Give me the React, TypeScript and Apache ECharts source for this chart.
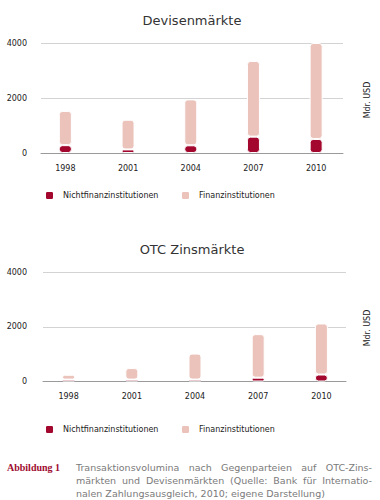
import React, { useEffect, useRef } from "react";
import * as echarts from "echarts";

const years = ["1998", "2001", "2004", "2007", "2010"];
const fxNonFinancial = [285, 130, 280, 595, 510];
const fxFinancial = [1245, 1080, 1670, 2750, 3490];
const irNonFinancial = [70, 70, 70, 140, 255];
const irFinancial = [175, 420, 950, 1590, 1865];
const yTicks = { min: 0, max: 4000, interval: 2000 };

const DARK = "#A3072D";
const LIGHT = "#EBC3BB";
const NAME_DARK = "Nichtfinanzinstitutionen";
const NAME_LIGHT = "Finanzinstitutionen";
const FONT = "DejaVu Sans";

export default function App() {
  const ref = useRef<HTMLDivElement>(null);
  useEffect(() => {
    if (!ref.current) return;
    const chart = echarts.init(ref.current, undefined, { renderer: "svg" });
    const gridAxisX = (gridIndex: number) => ({
      type: "category",
      gridIndex,
      data: years,
      axisLine: { show: true, lineStyle: { color: "#9a9a9a", width: 1 } },
      axisTick: { show: false },
      axisLabel: { show: false },
    });
    const barAxisX = (gridIndex: number) => ({
      type: "category",
      gridIndex,
      data: years,
      axisLine: { show: false },
      axisTick: { show: false },
      axisLabel: { show: true, fontSize: 8, color: "#222", fontFamily: FONT, margin: 11 },
    });
    const gridAxisY = (gridIndex: number, margin: number) => ({
      type: "value",
      gridIndex,
      ...yTicks,
      axisLine: { show: false },
      axisTick: { show: false },
      axisLabel: {
        fontSize: 8,
        color: "#222",
        fontFamily: FONT,
        margin,
        formatter: (v: number) => String(v),
      },
      splitLine: { lineStyle: { color: "#d3d3d3", width: 1 } },
    });
    const barAxisY = (gridIndex: number) => ({
      type: "value",
      gridIndex,
      ...yTicks,
      show: false,
      splitLine: { show: false },
    });
    const bar = (name: string, data: number[], idx: number, stack: string, color: string) => ({
      type: "bar",
      name,
      data,
      xAxisIndex: idx,
      yAxisIndex: idx,
      stack,
      barWidth: 13,
      itemStyle: { color, borderColor: "#fff", borderWidth: 1, borderRadius: 3 },
    });
    const legend = (name: string, left: number, top: number) => ({
      data: [name],
      left,
      top,
      padding: 0,
      icon: "roundRect",
      itemWidth: 9,
      itemHeight: 9,
      selectedMode: false,
      textStyle: { fontSize: 8, color: "#222", fontFamily: FONT, lineHeight: 9, padding: [0, 0, 0, 4] },
    });
    const title = (text: string, y: number) => ({
      type: "text",
      x: 192,
      y,
      style: { text, fontSize: 13, fontFamily: FONT, fill: "#333", align: "center", verticalAlign: "middle" },
    });
    const unit = (y: number) => ({
      type: "text",
      x: 367,
      y,
      rotation: Math.PI / 2,
      style: { text: "Mdr. USD", fontSize: 8, fontFamily: FONT, fill: "#222", align: "center", verticalAlign: "middle" },
    });
    chart.setOption({
      animation: false,
      grid: [
        { left: 41, right: 37, top: 43, height: 110 },
        { left: 34, right: 32.5, top: 43, height: 110 },
        { left: 43, right: 34, top: 272, height: 109.5 },
        { left: 37, right: 27, top: 272, height: 109.5 },
      ],
      xAxis: [gridAxisX(0), barAxisX(1), gridAxisX(2), barAxisX(3)],
      yAxis: [gridAxisY(0, 14), barAxisY(1), gridAxisY(2, 16), barAxisY(3)],
      legend: [
        legend(NAME_DARK, 44, 190),
        legend(NAME_LIGHT, 180, 190),
        legend(NAME_DARK, 44, 424),
        legend(NAME_LIGHT, 180, 424),
      ],
      graphic: [title("Devisenmärkte", 20), title("OTC Zinsmärkte", 249.5), unit(100), unit(328)],
      series: [
        bar(NAME_DARK, fxNonFinancial, 1, "fx", DARK),
        bar(NAME_LIGHT, fxFinancial, 1, "fx", LIGHT),
        bar(NAME_DARK, irNonFinancial, 3, "ir", DARK),
        bar(NAME_LIGHT, irFinancial, 3, "ir", LIGHT),
      ],
    });
    return () => chart.dispose();
  }, []);

  const lineStyle: React.CSSProperties = {
    textAlign: "justify",
    textAlignLast: "justify",
    height: 13,
  };
  return (
    <div style={{ position: "absolute", left: 0, top: 0, width: 380, height: 500, background: "#fff" }}>
      <div ref={ref} style={{ position: "absolute", left: 0, top: 0, width: 380, height: 455 }} />
      <div
        style={{
          position: "absolute",
          left: 7,
          top: 461,
          fontFamily: "Liberation Serif",
          fontWeight: "bold",
          fontSize: 10,
          lineHeight: "13px",
          color: "#9E0B2F",
        }}
      >
        Abbildung 1
      </div>
      <div
        style={{
          position: "absolute",
          left: 76,
          top: 461,
          width: 296,
          fontFamily: FONT,
          fontSize: 9.5,
          lineHeight: "13px",
          color: "#7a7a7a",
        }}
      >
        <div style={lineStyle}>Transaktionsvolumina nach Gegenparteien auf OTC-Zins-</div>
        <div style={lineStyle}>märkten und Devisenmärkten (Quelle: Bank für Internatio-</div>
        <div style={{ whiteSpace: "nowrap", height: 13 }}>nalen Zahlungsausgleich, 2010; eigene Darstellung)</div>
      </div>
    </div>
  );
}
